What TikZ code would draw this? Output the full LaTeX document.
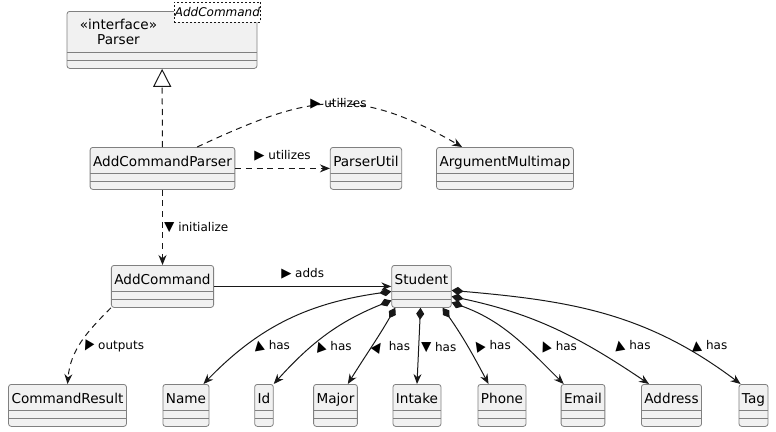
\documentclass[tikz,border=0pt]{standalone}
\usepackage{fontspec}
\setmainfont{DejaVu Sans}
\usepackage{graphicx}
\usetikzlibrary{arrows.meta}
\usetikzlibrary{positioning}

\definecolor{clsfill}{HTML}{F1F1F1}
\definecolor{clsline}{HTML}{808080}
\definecolor{edgeline}{HTML}{181818}

\newcommand{\lbltri}[1]{\rotatebox[origin=c]{#1}{\scalebox{1.1}{▶}}}

\tikzset{
  cls head/.store in=\clshead, cls head=19.5pt,
  cls/.style={rectangle, draw=clsline, fill=clsfill, rounded corners=2pt, line width=0.6pt,
    inner xsep=2.25pt, inner ysep=0pt, font=\fontsize{10.2}{12}\selectfont, anchor=north,
    execute at begin node={\rule[-16.9pt]{0pt}{31.5pt}},
    path picture={
      \draw[clsline, line width=0.6pt]
        ([yshift=-\clshead]path picture bounding box.north west) -- ([yshift=-\clshead]path picture bounding box.north east)
        ([yshift=-\clshead-6pt]path picture bounding box.north west) -- ([yshift=-\clshead-6pt]path picture bounding box.north east);
    }},
  tpl/.style={draw=edgeline, line width=0.5pt, dash pattern=on 1.5pt off 1.5pt, fill=white,
    font=\fontsize{9}{10}\selectfont\itshape, inner xsep=0.5pt, inner ysep=0pt, minimum height=15pt},
  lbl/.style={font=\fontsize{9}{10}\selectfont, inner sep=1pt},
  dep/.style={draw=edgeline, line width=0.75pt, dash pattern=on 4.5pt off 3.5pt,
    -{Stealth[length=7.5pt, width=6pt, inset=2.5pt]}},
  assoc/.style={draw=edgeline, line width=0.75pt, -{Stealth[length=7.5pt, width=6pt, inset=2.5pt]}},
  comp/.style={draw=edgeline, line width=0.75pt,
    {Diamond[length=9pt, width=6pt]}-{Stealth[length=7.5pt, width=6pt, inset=2.5pt]}},
  inh/.style={draw=edgeline, line width=0.75pt, dash pattern=on 4.5pt off 3.5pt,
    -{Triangle[open, length=13.5pt, width=13.5pt, fill=white]}},
}

\begin{document}
\begin{tikzpicture}[x=0.75pt, y=-0.75pt]
    \useasboundingbox (0,0) rectangle (776,432);

    % interface
    \node[cls, cls head=30.75pt] (Parser) at (162,11) {\rule[-23.45pt]{0pt}{42.75pt}\makebox[138pt][l]{\makebox[72.75pt]{\fontsize{10.2}{11.25}\selectfont\begin{tabular}{@{}c@{}}«interface»\\Parser\end{tabular}}}};
    \node[tpl] (Parser-tpl) at ([xshift=-30pt, yshift=-0.75pt]Parser.north east) {AddCommand};

    % parser level
    \node[cls] (ACP) at (162.5,147) {AddCommandParser};
    \node[cls] (PU) at (366,147) {ParserUtil};
    \node[cls] (AM) at (505,147) {ArgumentMultimap};
    \draw[inh] (ACP) -- (Parser);
    \draw[dep] (ACP) -- (PU) node[lbl, midway, above, yshift=3.75pt] {\lbltri{0} utilizes};
    \draw[dep] ([xshift=26pt]ACP.north) to[out=25, in=150, looseness=1.2]
        node[lbl, pos=0.53] {\lbltri{0} utilizes} ([xshift=19.5pt]AM.north west);

    % command level
    \node[cls] (AC) at (162.5,265) {AddCommand};
    \node[cls] (Student) at (421.5,265) {Student};
    \draw[dep] (ACP) -- (AC) node[lbl, midway, right] {\lbltri{-90} initialize};
    \draw[assoc] (AC) -- (Student) node[lbl, midway, above, yshift=3.75pt] {\lbltri{0} adds};

    % result
    \node[cls] (CR) at (67.5,384) {CommandResult};
    \draw[dep] (AC.south west) to[out=-135, in=85]
        node[lbl, pos=0.56, anchor=west] {\lbltri{-120} outputs} (CR.north);

    % fields of Student
    \node[cls] (Name) at (186,384) {Name};
    \node[cls] (Id) at (264,384) {Id};
    \node[cls] (Major) at (335.5,384) {Major};
    \node[cls] (Intake) at (417,384) {Intake};
    \node[cls] (Phone) at (502,384) {Phone};
    \node[cls] (Email) at (583,384) {Email};
    \node[cls] (Address) at (671.5,384) {Address};
    \node[cls] (Tag) at (753.5,384) {Tag};

    \draw[comp] ([yshift=-3.75pt]Student.west) to[out=188, in=46]
        node[lbl, pos=0.75, anchor=west, xshift=4.5pt] {\lbltri{100} has} ([xshift=-4.5pt]Name.north east);
    \draw[comp] ([yshift=-10.5pt]Student.west) to[out=202, in=48]
        node[lbl, pos=0.65, anchor=west, xshift=0.5pt] {\lbltri{110} has} (Id.north east);
    \draw[comp] ([xshift=3pt]Student.south west) to[out=-120, in=58]
        node[lbl, pos=0.52, anchor=west, xshift=-1.5pt] {\lbltri{55} has} ([xshift=-7.5pt]Major.north east);
    \draw[comp] ([xshift=-0.75pt]Student.south) -- (Intake.north)
        node[lbl, pos=0.52, anchor=west, xshift=0.5pt] {\lbltri{-90} has};
    \draw[comp] ([xshift=-6.75pt]Student.south east) to[out=-55, in=118]
        node[lbl, pos=0.52, anchor=west, xshift=1.5pt] {\lbltri{125} has} ([xshift=8.25pt]Phone.north west);
    \draw[comp] ([yshift=-12pt]Student.east) to[out=-20, in=135]
        node[lbl, pos=0.63, anchor=west, xshift=8.5pt] {\lbltri{115} has} ([xshift=2.25pt]Email.north west);
    \draw[comp] ([yshift=-7.5pt]Student.east) to[out=-12, in=146]
        node[lbl, pos=0.69, anchor=west, xshift=17pt] {\lbltri{100} has} ([xshift=6pt]Address.north west);
    \draw[comp] ([yshift=-3pt]Student.east) to[out=-5, in=143]
        node[lbl, pos=0.79, anchor=west, xshift=5pt] {\lbltri{95} has} ([xshift=1.5pt]Tag.north west);

\end{tikzpicture}
\end{document}
